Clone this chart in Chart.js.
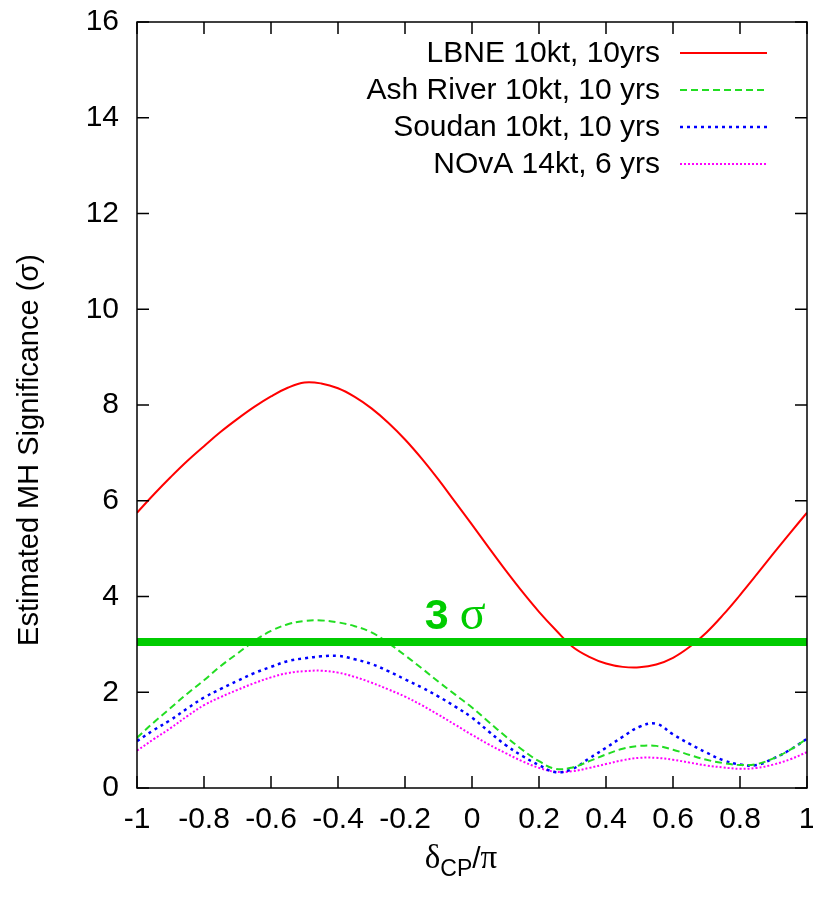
<!DOCTYPE html>
<html>
<head>
<meta charset="utf-8">
<script src="https://cdn.jsdelivr.net/npm/chart.js@4/dist/chart.umd.min.js"></script>
<style>
  html, body { margin: 0; padding: 0; background: #ffffff; }
  #c { display: block; }
</style>
</head>
<body>
<canvas id="c" width="813" height="900"></canvas>
<script>
// ---- data ----
const deltaCP = [-1.00,-0.95,-0.90,-0.85,-0.80,-0.75,-0.70,-0.65,-0.60,-0.55,-0.50,-0.45,-0.40,-0.35,-0.30,-0.25,-0.20,-0.15,-0.10,-0.05,
                 0.00,0.05,0.10,0.15,0.20,0.25,0.30,0.35,0.40,0.45,0.50,0.55,0.60,0.65,0.70,0.75,0.80,0.85,0.90,0.95,1.00];
const lbne = [5.75,6.13,6.49,6.83,7.14,7.44,7.71,7.96,8.18,8.36,8.47,8.45,8.35,8.17,7.93,7.63,7.28,6.88,6.44,5.97,
              5.50,5.02,4.55,4.10,3.68,3.30,2.95,2.74,2.60,2.53,2.52,2.58,2.72,2.95,3.25,3.62,4.03,4.46,4.90,5.33,5.75];
const ashRiver = [1.05,1.37,1.67,1.97,2.25,2.55,2.81,3.07,3.28,3.42,3.49,3.50,3.46,3.38,3.25,3.03,2.77,2.50,2.22,1.95,
                  1.68,1.38,1.08,0.80,0.56,0.40,0.43,0.56,0.70,0.82,0.88,0.88,0.80,0.69,0.59,0.52,0.48,0.50,0.62,0.80,1.03];
const soudan = [0.98,1.21,1.42,1.66,1.89,2.07,2.24,2.40,2.53,2.65,2.71,2.75,2.76,2.69,2.59,2.44,2.27,2.10,1.91,1.70,
                1.47,1.18,0.90,0.67,0.48,0.33,0.40,0.62,0.84,1.07,1.28,1.34,1.12,0.92,0.74,0.58,0.49,0.48,0.62,0.80,1.03];
const nova = [0.78,1.02,1.25,1.50,1.73,1.90,2.05,2.19,2.31,2.40,2.44,2.45,2.41,2.32,2.20,2.06,1.91,1.73,1.53,1.32,
              1.11,0.91,0.73,0.56,0.42,0.34,0.35,0.42,0.50,0.58,0.63,0.63,0.59,0.53,0.47,0.43,0.40,0.42,0.49,0.60,0.75];
const seriesLabels = ["LBNE 10kt, 10yrs", "Ash River 10kt, 10 yrs", "Soudan 10kt, 10 yrs", "NOvA 14kt, 6 yrs"];
const threeSigmaLevel = 3.05;
const threeSigmaRange = [-1, 1];
const threeSigmaLabelX = -0.05;
const xTickValues = [-1,-0.8,-0.6,-0.4,-0.2,0,0.2,0.4,0.6,0.8,1];
const xTickLabels = ["-1","-0.8","-0.6","-0.4","-0.2","0","0.2","0.4","0.6","0.8","1"];
const yTickValues = [0,2,4,6,8,10,12,14,16];
const yTickLabels = ["0","2","4","6","8","10","12","14","16"];

// ---- styles ----
const SANS = "'Liberation Sans', Arial, Helvetica, sans-serif";
const SERIF = "'Liberation Serif', 'DejaVu Serif', serif";
const seriesStyles = [
  { color: '#ff0000', dash: [], width: 2 },
  { color: '#22dd22', dash: [7, 4], width: 2 },
  { color: '#0000ff', dash: [3, 4], width: 2.5 },
  { color: '#ff00ff', dash: [2, 2], width: 2 }
];

function pts(ys) { return deltaCP.map((x, i) => ({ x: x, y: ys[i] })); }
const seriesData = [lbne, ashRiver, soudan, nova];

const datasets = seriesData.map((ys, i) => ({
  label: seriesLabels[i],
  data: pts(ys),
  borderColor: seriesStyles[i].color,
  borderDash: seriesStyles[i].dash,
  borderWidth: seriesStyles[i].width,
  pointRadius: 0,
  fill: false,
  tension: 0.4,
  order: i + 1
}));
datasets.push({
  label: '3sigma',
  isRef: true,
  data: threeSigmaRange.map(x => ({ x: x, y: threeSigmaLevel })),
  borderColor: '#00cc00',
  borderWidth: 8,
  pointRadius: 0,
  fill: false,
  order: -1
});

function fmtLabel(v, values, labels) {
  for (let i = 0; i < values.length; i++) if (Math.abs(values[i] - v) < 1e-6) return labels[i];
  return '';
}

const decorPlugin = {
  id: 'decor',
  afterDatasetsDraw(chart) {
    const ctx = chart.ctx;
    const a = chart.chartArea;
    const xs = chart.scales.x, ys = chart.scales.y;
    ctx.save();
    // frame
    ctx.strokeStyle = '#000';
    ctx.lineWidth = 1.5;
    ctx.setLineDash([]);
    ctx.strokeRect(a.left, a.top, a.right - a.left, a.bottom - a.top);
    // inward ticks (mirrored)
    const tl = 12;
    ctx.beginPath();
    xTickValues.forEach(v => {
      const px = xs.getPixelForValue(v);
      ctx.moveTo(px, a.bottom); ctx.lineTo(px, a.bottom - tl);
      ctx.moveTo(px, a.top); ctx.lineTo(px, a.top + tl);
    });
    yTickValues.forEach(v => {
      const py = ys.getPixelForValue(v);
      ctx.moveTo(a.left, py); ctx.lineTo(a.left + tl, py);
      ctx.moveTo(a.right, py); ctx.lineTo(a.right - tl, py);
    });
    ctx.stroke();

    // legend (inside, top right)
    const textRight = 660, lineL = 680, lineR = 767, row0 = 53, rowH = 37;
    ctx.font = '30px ' + SANS;
    ctx.textAlign = 'right';
    ctx.textBaseline = 'middle';
    chart.data.datasets.forEach((ds, i) => {
      if (ds.isRef) return;
      const y = row0 + i * rowH;
      ctx.fillStyle = '#000';
      ctx.fillText(ds.label, textRight, y + 1);
      ctx.strokeStyle = ds.borderColor;
      ctx.lineWidth = ds.borderWidth;
      ctx.setLineDash(ds.borderDash || []);
      ctx.beginPath();
      ctx.moveTo(lineL, y); ctx.lineTo(lineR, y);
      ctx.stroke();
    });
    ctx.setLineDash([]);

    // 3 sigma label
    const cx = xs.getPixelForValue(threeSigmaLabelX);
    const by = ys.getPixelForValue(threeSigmaLevel) - 13;
    ctx.fillStyle = '#00cc00';
    ctx.textBaseline = 'alphabetic';
    ctx.textAlign = 'left';
    ctx.font = 'bold 43px ' + SANS;
    const w3 = ctx.measureText('3').width;
    ctx.font = '48px ' + SERIF;
    const ws = ctx.measureText('σ').width;
    const gap = 11;
    const start = cx - (w3 + gap + ws) / 2;
    ctx.font = 'bold 43px ' + SANS;
    ctx.fillText('3', start, by);
    ctx.font = '48px ' + SERIF;
    ctx.fillText('σ', start + w3 + gap, by);
    ctx.restore();
  },
  afterDraw(chart) {
    const ctx = chart.ctx;
    const a = chart.chartArea;
    ctx.save();
    ctx.fillStyle = '#000';
    // y title
    ctx.translate(30, 450);
    ctx.rotate(-Math.PI / 2);
    ctx.font = '29px ' + SANS;
    ctx.textAlign = 'center';
    ctx.textBaseline = 'middle';
    ctx.fillText('Estimated MH Significance (σ)', 0, 0);
    ctx.restore();

    // x title: δ_CP / π
    ctx.save();
    ctx.fillStyle = '#000';
    ctx.textBaseline = 'alphabetic';
    ctx.textAlign = 'left';
    const parts = [
      { t: 'δ', f: '33px ' + SERIF, dy: 0 },
      { t: 'CP', f: '23px ' + SANS, dy: 8 },
      { t: '/', f: '30px ' + SANS, dy: 0 },
      { t: 'π', f: '33px ' + SERIF, dy: 0 }
    ];
    let total = 0;
    parts.forEach(p => { ctx.font = p.f; p.w = ctx.measureText(p.t).width; total += p.w; });
    let x = (a.left + a.right) / 2 - total / 2 - 11;
    const base = 868;
    parts.forEach(p => { ctx.font = p.f; ctx.fillText(p.t, x, base + p.dy); x += p.w; });
    ctx.restore();
  }
};

new Chart(document.getElementById('c'), {
  type: 'line',
  data: { datasets: datasets },
  options: {
    responsive: false,
    animation: false,
    devicePixelRatio: 1,
    layout: { padding: { left: 0, right: 6, top: 22, bottom: 0 } },
    plugins: {
      legend: { display: false },
      tooltip: { enabled: false },
      title: { display: false }
    },
    scales: {
      x: {
        type: 'linear',
        min: -1, max: 1,
        grid: { display: false, drawTicks: false },
        border: { display: false },
        afterBuildTicks: s => { s.ticks = xTickValues.map(v => ({ value: v })); },
        ticks: {
          color: '#000',
          font: { family: SANS, size: 30 },
          padding: 14,
          maxRotation: 0,
          autoSkip: false,
          callback: v => fmtLabel(v, xTickValues, xTickLabels)
        },
        afterFit: s => { s.height = 112; s.paddingLeft = 0; s.paddingRight = 0; }
      },
      y: {
        type: 'linear',
        min: 0, max: 16,
        grid: { display: false, drawTicks: false },
        border: { display: false },
        afterBuildTicks: s => { s.ticks = yTickValues.map(v => ({ value: v })); },
        ticks: {
          color: '#000',
          font: { family: SANS, size: 30 },
          padding: 18,
          autoSkip: false,
          callback: v => fmtLabel(v, yTickValues, yTickLabels)
        },
        afterFit: s => { s.width = 137; s.paddingTop = 0; s.paddingBottom = 0; }
      }
    }
  },
  plugins: [decorPlugin]
});
</script>
</body>
</html>
